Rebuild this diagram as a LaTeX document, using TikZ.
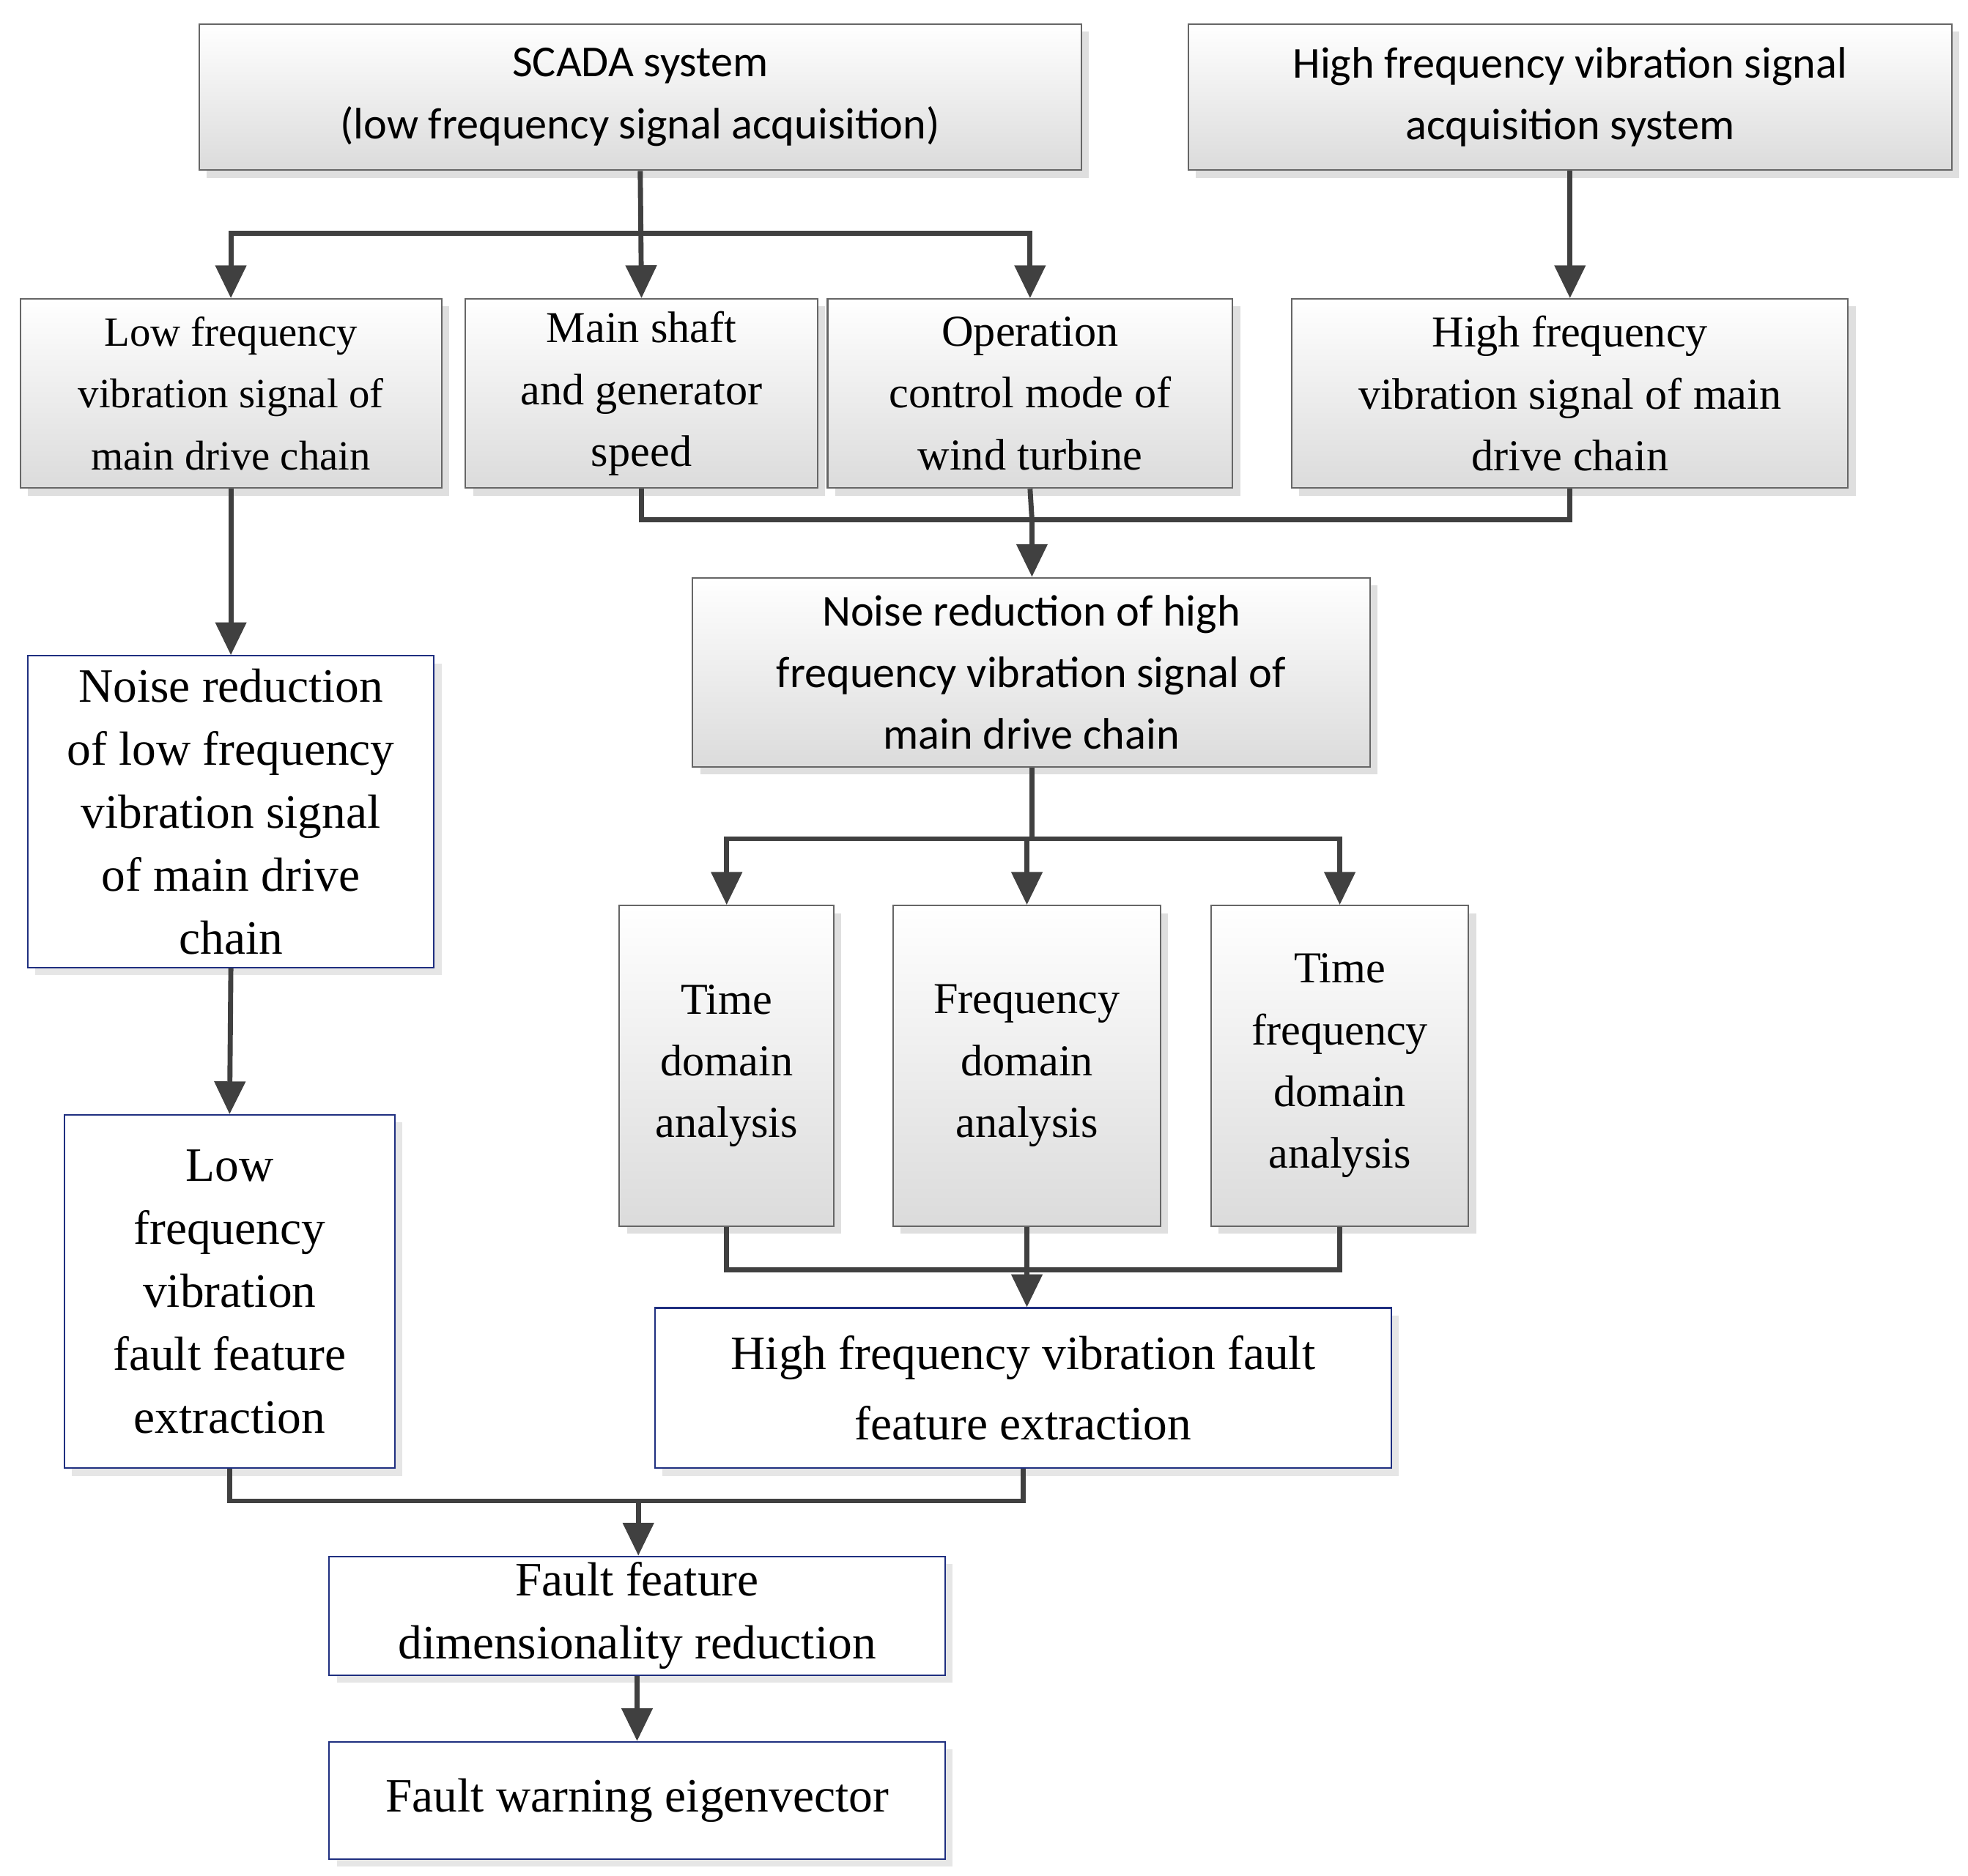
\documentclass[tikz,border=0pt]{standalone}
\usepackage{fontspec}
\setmainfont{Liberation Serif}
\newfontfamily\sansf{Carlito}
\usetikzlibrary{arrows.meta,shadows}
\definecolor{ln}{HTML}{404040}
\definecolor{bb}{HTML}{1F2F80}
\begin{document}
\begin{tikzpicture}[x=1pt,y=-1pt,
 gbox/.style={draw=gray!80!black,line width=1.2pt,top color=white,bottom color=gray!28,
   drop shadow={shadow xshift=6pt,shadow yshift=-6pt,opacity=.25,fill=gray},
   align=center,inner sep=0pt,font=\fontsize{35}{49}\selectfont},
 sbox/.style={gbox,font=\sansf\fontsize{35}{49}\selectfont},
 bbox/.style={draw=bb,line width=1.2pt,fill=white,
   drop shadow={shadow xshift=6pt,shadow yshift=-6pt,opacity=.2,fill=gray},
   align=center,inner sep=0pt,font=\fontsize{38}{50}\selectfont},
 ln/.style={draw=ln,line width=4pt},
 ar/.style={ln,-{Triangle[length=26pt,width=24pt]}}]
\useasboundingbox (0,0) rectangle (1560,1487);
\def\bx#1#2#3#4#5#6#7{\node[#1,minimum width={#5-#3},minimum height={#6-#4}] (#2) at ({(#3+#5)/2},{(#4+#6)/2}) {#7};}
\bx{sbox}{scada}{158}{19}{857}{135}{SCADA system\\(low frequency signal acquisition)}
\bx{sbox}{hfa}{942}{19}{1547}{135}{High frequency vibration signal\\acquisition system}
\bx{gbox}{lfv}{16}{237}{350}{387}{\fontsize{33}{44}\selectfont Low frequency\\\fontsize{33}{44}\selectfont vibration signal of\\\fontsize{33}{44}\selectfont main drive chain}
\bx{gbox}{ms}{369}{237}{648}{387}{Main shaft\\and generator\\speed}
\bx{gbox}{op}{656}{237}{977}{387}{Operation\\control mode of\\wind turbine}
\bx{gbox}{hfv}{1024}{237}{1465}{387}{High frequency\\vibration signal of main\\drive chain}
\bx{sbox}{nhf}{549}{458}{1086}{608}{Noise reduction of high\\frequency vibration signal of\\main drive chain}
\bx{bbox}{nlf}{22}{520}{344}{767}{Noise reduction\\of low frequency\\vibration signal\\of main drive\\chain}
\bx{gbox}{td}{491}{718}{661}{972}{Time\\domain\\analysis}
\bx{gbox}{fd}{708}{718}{920}{972}{Frequency\\domain\\analysis}
\bx{gbox}{tf}{960}{718}{1164}{972}{Time\\frequency\\domain\\analysis}
\bx{bbox}{lff}{51}{884}{313}{1164}{Low\\frequency\\vibration\\fault feature\\extraction}
\bx{bbox}{hff}{519}{1037}{1103}{1164}{High frequency vibration fault\\[6pt]feature extraction}
\bx{bbox}{fdr}{261}{1234}{749}{1328}{Fault feature\\dimensionality reduction}
\bx{bbox}{fw}{261}{1381}{749}{1474}{Fault warning eigenvector}
% connectors
\coordinate (j1) at (508,185);
\draw[ln] (scada.south) -- (j1);
\draw[ar] (j1) -| (lfv.north);
\draw[ar] (j1) -- (ms.north);
\draw[ar] (j1) -| (op.north);
\draw[ar] (hfa.south) -- (hfv.north);
\coordinate (j2) at (818,412);
\draw[ln] (ms.south) |- (j2) -| (hfv.south);
\draw[ln] (op.south) -- (j2);
\draw[ar] (j2) -- (nhf.north -| j2);
\draw[ar] (lfv.south) -- (nlf.north);
\draw[ar] (nlf.south) -- (lff.north);
\coordinate (j3) at (818,665);
\draw[ln] (nhf.south -| j3) -- (j3);
\draw[ar] (j3) -| (td.north);
\draw[ar] (j3) -| (fd.north);
\draw[ar] (j3) -| (tf.north);
\coordinate (j4) at (815,1007);
\draw[ln] (td.south) |- (j4) -| (tf.south);
\draw[ar] (fd.south) -- (hff.north -| fd.south);
\coordinate (j5) at (506,1190);
\draw[ln] (lff.south) |- (j5) -| (hff.south);
\draw[ar] (j5) -- (fdr.north -| j5);
\draw[ar] (fdr.south) -- (fw.north);
\end{tikzpicture}
\end{document}
